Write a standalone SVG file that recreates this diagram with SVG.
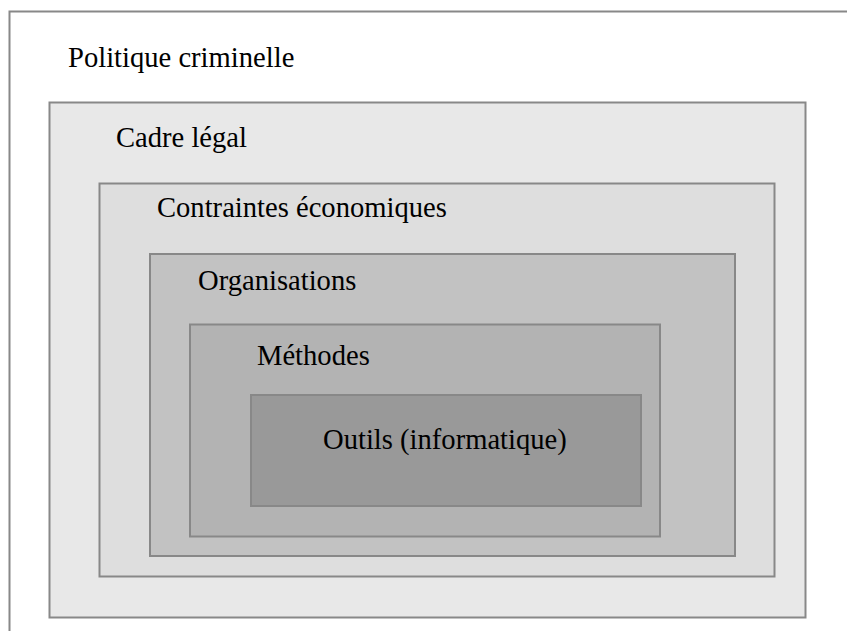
<svg xmlns="http://www.w3.org/2000/svg" width="847" height="631" viewBox="0 0 847 631">
  <style>
    .frame { stroke: #888888; stroke-width: 2; }
    .label { font-size: 28.6px; fill: #000000; }
  </style>
  <rect x="0" y="0" width="847" height="631" fill="#ffffff"/>
  <!-- nested levels, outermost first -->
  <g id="politique">
    <rect class="frame" x="9.5" y="11.5" width="860" height="640" fill="#ffffff" stroke="#999999"/>
    <text class="label" font-family="Liberation Serif, DejaVu Serif, serif" x="68" y="67">Politique criminelle</text>
  </g>
  <g id="cadre">
    <rect class="frame" x="49.5" y="102.5" width="756" height="515" fill="#e8e8e8"/>
    <text class="label" font-family="Liberation Serif, DejaVu Serif, serif" x="116" y="147">Cadre légal</text>
  </g>
  <g id="contraintes">
    <rect class="frame" x="99.5" y="183.5" width="675" height="393" fill="#dedede"/>
    <text class="label" font-family="Liberation Serif, DejaVu Serif, serif" x="157" y="217">Contraintes économiques</text>
  </g>
  <g id="organisations">
    <rect class="frame" x="150" y="254" width="585" height="302" fill="#c2c2c2"/>
    <text class="label" font-family="Liberation Serif, DejaVu Serif, serif" x="198" y="290">Organisations</text>
  </g>
  <g id="methodes">
    <rect class="frame" x="190" y="324.5" width="470" height="212" fill="#b3b3b3"/>
    <text class="label" font-family="Liberation Serif, DejaVu Serif, serif" x="257" y="365">Méthodes</text>
  </g>
  <g id="outils">
    <rect class="frame" x="251" y="395" width="390" height="111" fill="#999999" stroke="#7a7a7a"/>
    <text class="label" font-family="Liberation Serif, DejaVu Serif, serif" x="323" y="449">Outils (informatique)</text>
  </g>
  <g id="connectors"></g>
</svg>
